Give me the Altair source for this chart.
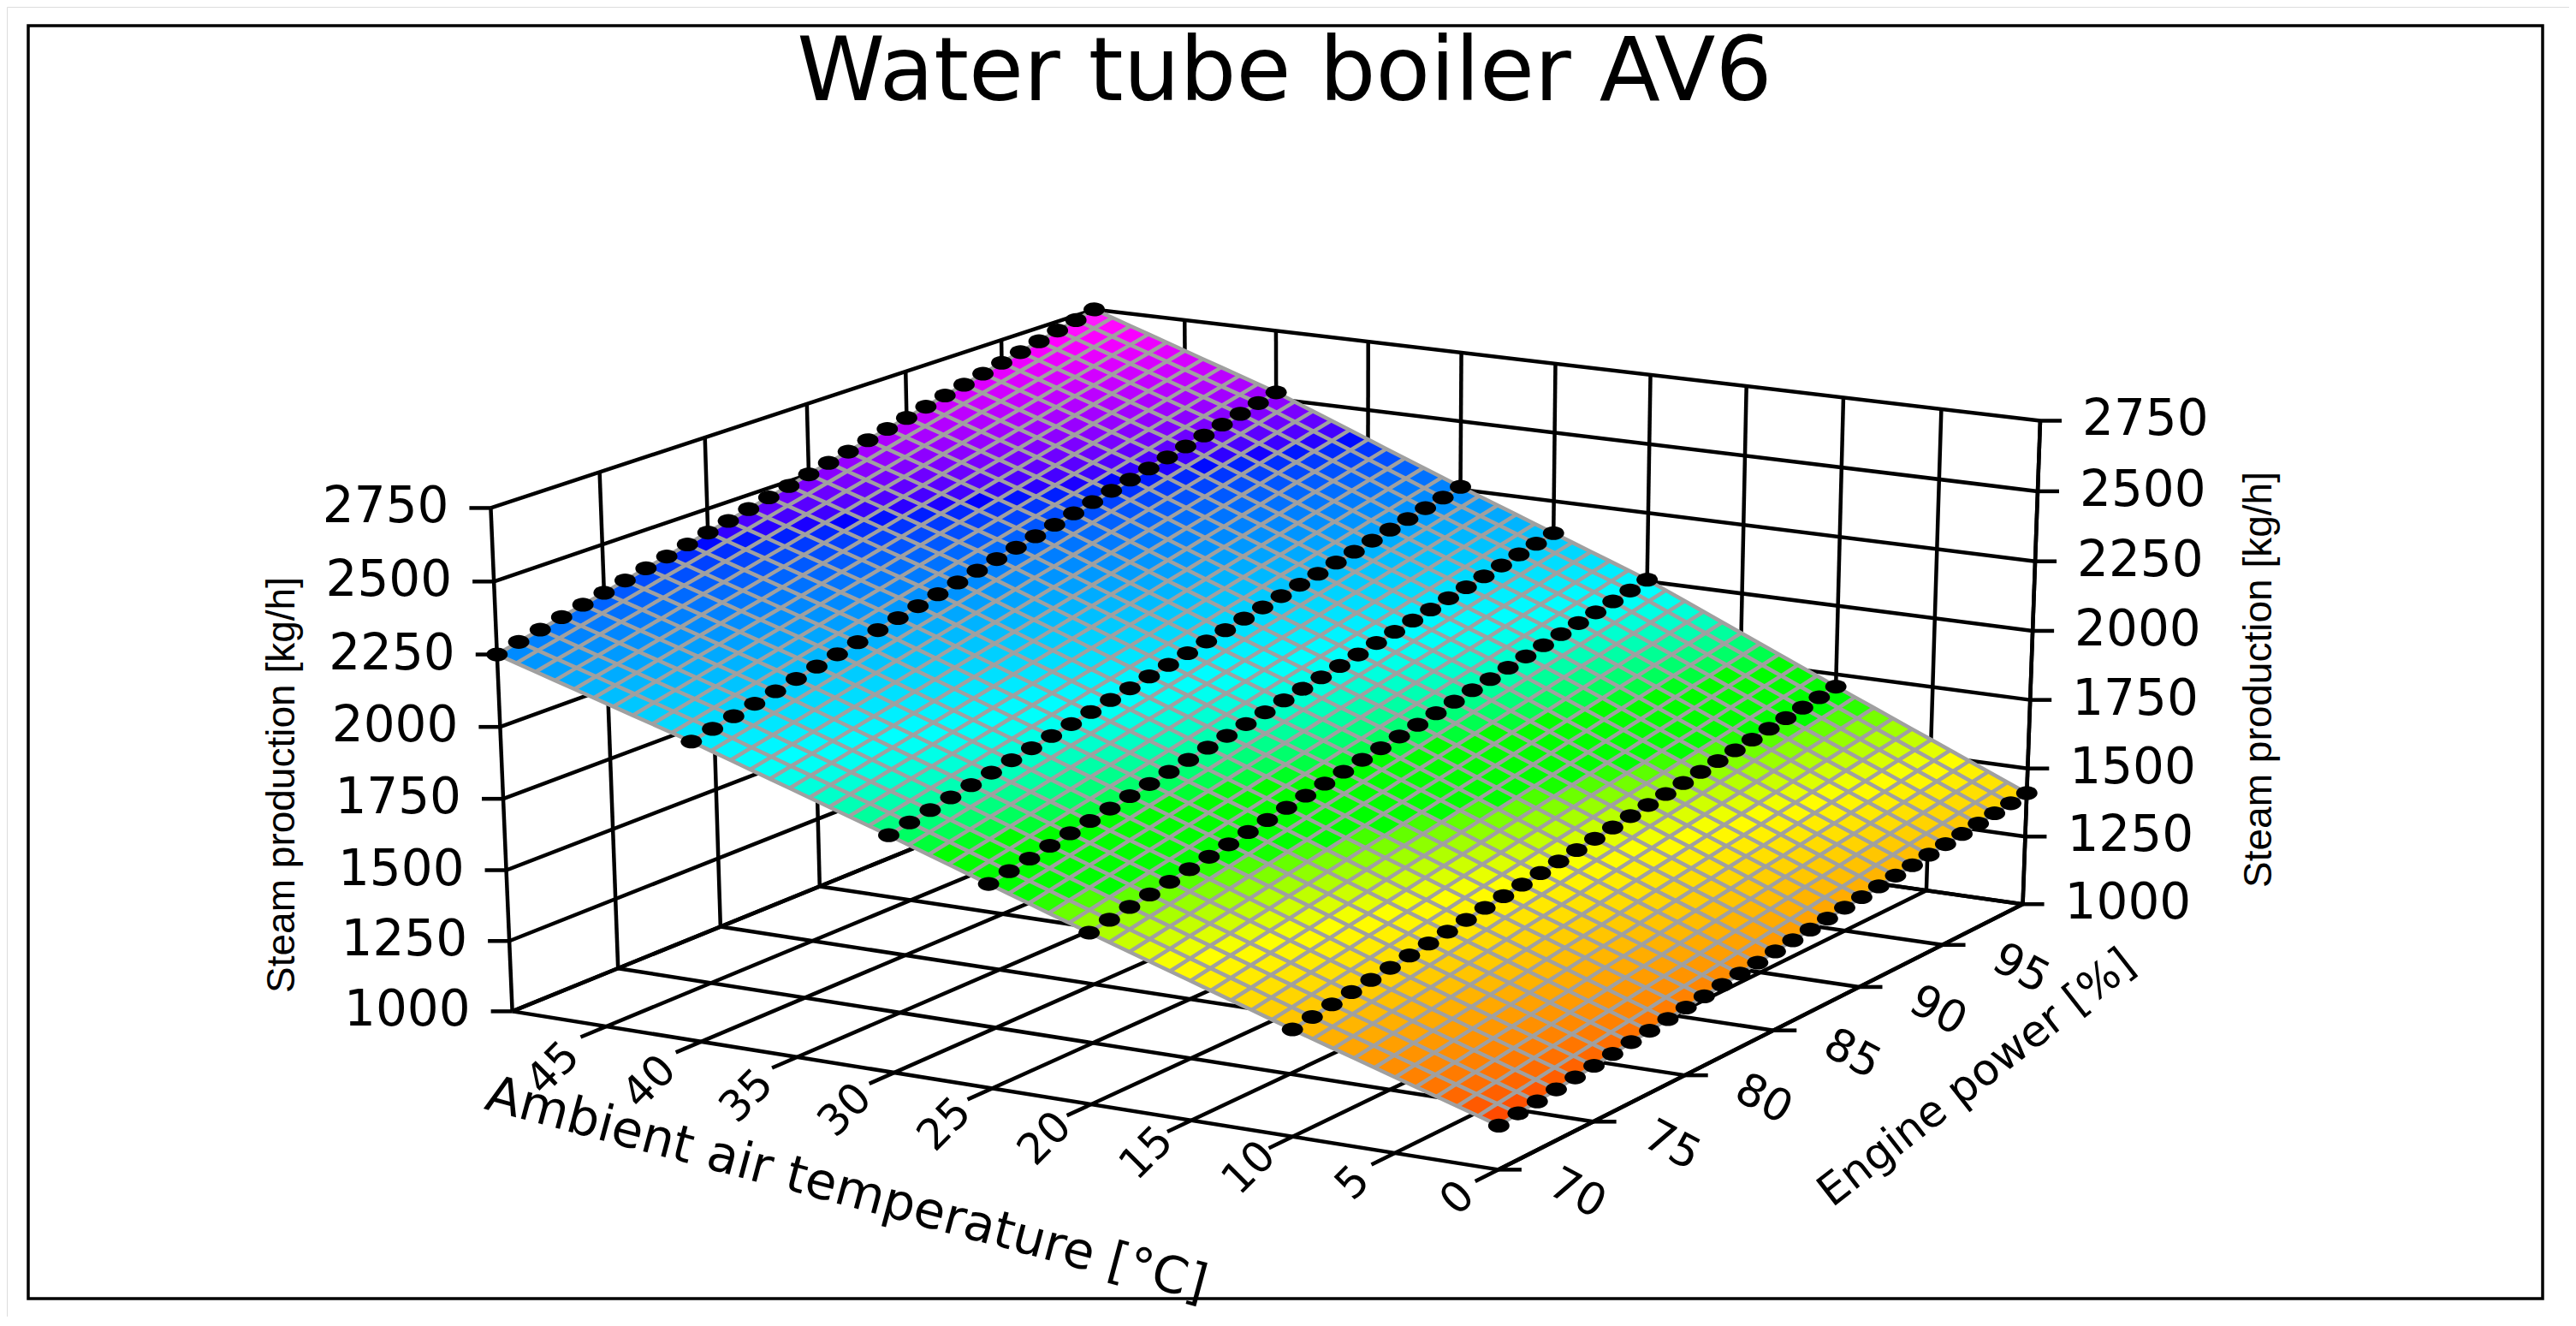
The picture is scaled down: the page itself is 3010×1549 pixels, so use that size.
import numpy as np
import pandas as pd
import altair as alt

W = 2994
H = 1530

title_text = "Water tube boiler AV6"
power = list(range(70, 101))
temps = [50, 40, 30, 25, 20, 10, 0]

# steam production [kg/h], one list per temperature row
steam_50 = [2250,2267,2283,2300,2317,2333,2350,2367,2383,2400,2417,2433,2450,2467,2483,2500,2517,2533,2550,2567,2583,2600,2617,2633,2650,2667,2683,2700,2717,2733,2750]
steam_40 = [2045,2061,2077,2093,2109,2125,2141,2157,2173,2189,2205,2221,2237,2253,2269,2285,2300,2316,2332,2348,2364,2380,2396,2412,2428,2444,2460,2476,2492,2508,2524]
steam_30 = [1822,1837,1851,1866,1880,1895,1910,1924,1939,1953,1968,1983,1997,2012,2026,2041,2056,2070,2085,2099,2114,2129,2143,2158,2172,2187,2202,2216,2231,2245,2260]
steam_25 = [1706,1720,1734,1749,1763,1777,1791,1806,1820,1834,1848,1863,1877,1891,1905,1920,1934,1948,1962,1976,1991,2005,2019,2033,2048,2062,2076,2090,2105,2119,2133]
steam_20 = [1591,1605,1619,1632,1646,1660,1674,1688,1702,1715,1729,1743,1757,1771,1785,1798,1812,1826,1840,1854,1868,1881,1895,1909,1923,1937,1951,1964,1978,1992,2006]
steam_10 = [1367,1378,1390,1401,1412,1423,1435,1446,1457,1468,1480,1491,1502,1513,1525,1536,1547,1558,1570,1581,1592,1603,1615,1626,1637,1648,1660,1671,1682,1693,1705]
steam_00 = [1150,1159,1167,1176,1185,1193,1202,1211,1219,1228,1237,1245,1254,1263,1271,1280,1289,1297,1306,1315,1323,1332,1341,1349,1358,1367,1375,1384,1393,1401,1410]
rows = [steam_50, steam_40, steam_30, steam_25, steam_20, steam_10, steam_00]

temp_ticks = [0, 5, 10, 15, 20, 25, 30, 35, 40, 45]
temp_lines = [0, 5, 10, 15, 20, 25, 30, 35, 40, 45, 50]
power_ticks = [70, 75, 80, 85, 90, 95]
power_lines = [70, 75, 80, 85, 90, 95, 100]
steam_ticks = [1000, 1250, 1500, 1750, 2000, 2250, 2500, 2750]

color_steam = [1110, 1510, 1660, 1780, 1990, 2400, 2700]
color_hex = ["#ff0000", "#ffff00", "#00ff00", "#00ff00", "#00ffff", "#0000ff", "#ff00ff"]

# camera: box corners (temp, power, steam) and where they land on the page
cam_3d = [(50, 70, 1000), (50, 70, 2750), (50, 100, 1000), (50, 100, 2750),
          (0, 100, 1000), (0, 100, 2750), (0, 70, 1000)]
cam_px = [(597.5, 1178.6), (574, 595), (1286, 905), (1278, 360),
          (2363, 1055), (2384, 491.5), (1751.5, 1367.7)]


def norm(t, p, z):
    return t / 50.0, (p - 70) / 30.0, (z - 1000) / 1750.0


eqs = []
for (t, p, z), (u, v) in zip(cam_3d, cam_px):
    a, b, c = norm(t, p, z)
    u, v = (u - 8) / 1000.0, (v - 8) / 1000.0
    eqs.append([a, b, c, 1, 0, 0, 0, 0, -u * a, -u * b, -u * c, -u])
    eqs.append([0, 0, 0, 0, a, b, c, 1, -v * a, -v * b, -v * c, -v])
cam = np.linalg.svd(np.array(eqs))[2][-1].reshape(3, 4)


def project(t, p, z):
    a, b, c = norm(t, p, z)
    q = cam @ np.array([a, b, c, 1.0])
    return q[0] / q[2] * 1000, q[1] / q[2] * 1000


# mesh between the measured rows, filled the way the plotting software meshes them
mesh_t = list(range(0, 51))
t_asc = temps[::-1]
mesh_z = np.array([[np.interp(t, t_asc, [rows[temps.index(r)][j] for r in t_asc])
                    for j in range(len(power))] for t in mesh_t])

# walls, floor and ticks
lines = []


def add_line(name, pts):
    for i, (t, p, z) in enumerate(pts):
        x, y = project(t, p, z)
        lines.append({"id": name, "seq": i, "sx": x, "sy": y})


for z in steam_ticks:
    add_line(f"h{z}", [(0, 100, z), (50, 100, z), (50, 70, z)])
for t in temp_lines:
    add_line(f"b{t}", [(t, 100, 1000), (t, 100, 2750)])
    add_line(f"ft{t}", [(t, 100, 1000), (t, 68.8 if t < 50 else 70, 1000)])
for p in power_lines:
    add_line(f"l{p}", [(50, p, 1000), (50, p, 2750)])
    add_line(f"fp{p}", [(50, p, 1000), (0, p, 1000)])
add_line("edge_front", [(0, 70, 1000), (0, 100, 1000)])
add_line("edge_right", [(0, 100, 1000), (0, 100, 2750)])
lines = pd.DataFrame(lines)

ticks = []
for z in steam_ticks:
    x, y = project(50, 70, z)
    ticks.append({"sx": x, "sx2": x - 25, "sy": y})
    x, y = project(0, 100, z)
    ticks.append({"sx": x, "sx2": x + 25, "sy": y})
for p in power_ticks:
    x, y = project(0, p, 1000)
    ticks.append({"sx": x, "sx2": x + 27, "sy": y})
ticks = pd.DataFrame(ticks)

mesh = []
for i, t in enumerate(mesh_t):
    for j, p in enumerate(power):
        x, y = project(t, p, mesh_z[i][j])
        mesh.append({"id": f"t{t}", "seq": j, "sx": x, "sy": y})
        mesh.append({"id": f"p{p}", "seq": i, "sx": x, "sy": y})
mesh = pd.DataFrame(mesh)

cells = []
for i in range(len(mesh_t) - 1):
    for j in range(len(power) - 1):
        corners = [(i, j), (i, j + 1), (i + 1, j + 1), (i + 1, j), (i, j)]
        ring = [list(project(mesh_t[a], power[b], mesh_z[a][b])) for a, b in corners]
        val = float(np.mean([mesh_z[a][b] for a, b in corners[:4]]))
        cells.append({"type": "Feature", "properties": {"steam": val},
                      "geometry": {"type": "Polygon", "coordinates": [ring]}})

dots = []
for t, row in zip(temps, rows):
    for p, z in zip(power, row):
        x, y = project(t, p, z)
        dots.append({"sx": x, "sy": y, "temp": t, "power": p, "steam": z})
dots = pd.DataFrame(dots)

# labels sit a fixed distance from the tick they belong to
t_labels = []
for t in temp_ticks:
    x, y = project(t, 68.8, 1000)
    t_labels.append({"sx": x - 20 - t * 0.26, "sy": y + 20 + t * 0.38, "label": str(t)})
t_labels = pd.DataFrame(t_labels)
p_labels = []
for p in power_ticks:
    x, y = project(0, p, 1000)
    p_labels.append({"sx": x + 92, "sy": y + 28, "label": str(p)})
p_labels = pd.DataFrame(p_labels)
z_left = pd.DataFrame([dict(zip(("sx", "sy"), project(50, 70, z)), label=str(z)) for z in steam_ticks])
z_right = pd.DataFrame([dict(zip(("sx", "sy"), project(0, 100, z)), label=str(z)) for z in steam_ticks])

x_enc = alt.X("sx:Q", axis=None, scale=alt.Scale(domain=[0, W]))
y_enc = alt.Y("sy:Q", axis=None, scale=alt.Scale(domain=[H, 0]))

frame = pd.DataFrame([{"sx": 25, "sx2": 2963, "sy": 22, "sy2": 1509}])
frame_layer = alt.Chart(frame).mark_rect(filled=False, stroke="black", strokeWidth=3.5).encode(
    x=x_enc, x2="sx2:Q", y=y_enc, y2="sy2:Q")

box_layer = alt.Chart(lines).mark_line(color="black", strokeWidth=4.5).encode(
    x=x_enc, y=y_enc, detail="id:N", order="seq:Q")
tick_layer = alt.Chart(ticks).mark_rule(color="black", strokeWidth=4.5).encode(
    x=x_enc, x2="sx2:Q", y=y_enc)

cell_layer = alt.Chart(alt.Data(values=cells)).mark_geoshape(strokeWidth=1).encode(
    color=alt.Color("properties.steam:Q", legend=None,
                    scale=alt.Scale(domain=color_steam, range=color_hex)),
    stroke=alt.Stroke("properties.steam:Q", legend=None,
                      scale=alt.Scale(domain=color_steam, range=color_hex)),
).project(type="identity", scale=1, translate=[0, 0])

mesh_layer = alt.Chart(mesh).mark_line(color="#a0a0a0", strokeWidth=4.5).encode(
    x=x_enc, y=y_enc, detail="id:N", order="seq:Q")

oval = "M-1,0A1,0.65 0 1 1 1,0A1,0.65 0 1 1 -1,0Z"
dot_layer = alt.Chart(dots).mark_point(shape=oval, filled=True, fill="black", stroke=None,
                                       opacity=1, size=620).encode(x=x_enc, y=y_enc)

font = "DejaVu Sans"
t_text = alt.Chart(t_labels).mark_text(font=font, fontSize=50, angle=315, color="black").encode(
    x=x_enc, y=y_enc, text="label:N")
p_text = alt.Chart(p_labels).mark_text(font=font, fontSize=52, angle=28, color="black").encode(
    x=x_enc, y=y_enc, text="label:N")
zl_text = alt.Chart(z_left).mark_text(font=font, fontSize=58, align="right", dx=-49, color="black").encode(
    x=x_enc, y=y_enc, text="label:N")
zr_text = alt.Chart(z_right).mark_text(font=font, fontSize=58, align="left", dx=49, color="black").encode(
    x=x_enc, y=y_enc, text="label:N")

titles = [
    (1493, 78, title_text, 104, 0, "DejaVu Sans"),
    (981, 1382, "Ambient air temperature [°C]", 59, 15, "DejaVu Sans"),
    (2302, 1252, "Engine power [%]", 51, 322, "DejaVu Sans"),
    (322, 909, "Steam production [kg/h]", 46, 270, "Liberation Sans"),
    (2632, 786, "Steam production [kg/h]", 46, 270, "Liberation Sans"),
]
title_layers = []
for sx, sy, label, size, ang, f in titles:
    one = pd.DataFrame([{"sx": sx, "sy": sy, "label": label}])
    title_layers.append(alt.Chart(one).mark_text(font=f, fontSize=size, angle=ang, color="black").encode(
        x=x_enc, y=y_enc, text="label:N"))

chart = alt.layer(
    frame_layer, box_layer, tick_layer, cell_layer, mesh_layer, dot_layer,
    t_text, p_text, zl_text, zr_text, *title_layers
).resolve_scale(color="independent", stroke="independent").properties(
    width=W, height=H, padding=0
).configure_view(stroke=None).configure(background="white")

chart.save("out.html", embed_options={"renderer": "svg", "actions": False})
